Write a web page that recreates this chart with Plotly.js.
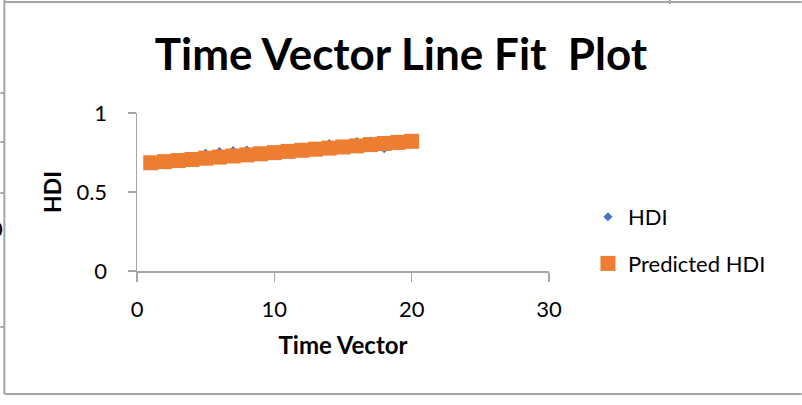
<!DOCTYPE html>
<html>
<head>
<meta charset="utf-8">
<script src="https://cdn.plot.ly/plotly-3.0.1.min.js"></script>
<style>html,body{margin:0;padding:0;background:#fff;}#chart{width:802px;height:405px;}</style>
</head>
<body>
<div id="chart"></div>
<script>
// ---- data ----
const timeVector = [1,2,3,4,5,6,7,8,9,10,11,12,13,14,15,16,17,18,19,20];
const hdi = [0.666,0.681,0.700,0.712,0.745,0.756,0.762,0.766,0.734,0.740,0.744,0.755,0.764,0.806,0.790,0.819,0.823,0.774,0.792,0.820];
const predictedHdi = [0.685,0.692,0.699,0.706,0.714,0.721,0.728,0.735,0.742,0.749,0.757,0.764,0.771,0.778,0.785,0.792,0.800,0.807,0.814,0.821];
const xTicks = [0,10,20,30];
const yTicks = [0,0.5,1];
const yTickText = ['0','0.5','1'];

// ---- layout helpers (pixel -> paper) ----
const W = 802, H = 405;
const L = 136.7, R = 549, T = 113, B = 271;
const px = x => (x - L) / (R - L);
const py = y => (B - y) / (B - T);
const FONT = 'Lato, "Open Sans", sans-serif';
const gray = '#a6a6a6';

const frame = [
  [4,0,4,394],[4,2,802,2],[4,394,802,394],[670,0,670,4],
  [0,93,4,93],[0,142,4,142],[0,193,4,193],[0,327,4,327]
].map(s => ({type:'line', xref:'paper', yref:'paper',
  x0:px(s[0]), y0:py(s[1]), x1:px(s[2]), y1:py(s[3]),
  line:{color:gray, width:2}}));

const traces = [
  {x: timeVector, y: hdi, name: 'HDI', type: 'scatter', mode: 'markers',
   legendgroup: 'a',
   marker: {symbol: 'diamond', size: 7, color: '#4472C4'}},
  {x: timeVector, y: predictedHdi, name: 'Predicted HDI', type: 'scatter', mode: 'markers',
   legendgroup: 'b',
   marker: {symbol: 'square', size: 15, color: '#ED7D31'}}
];

const layout = {
  width: W, height: H,
  margin: {l: L, r: W - R, t: T, b: H - B, pad: 0},
  paper_bgcolor: '#fff', plot_bgcolor: '#fff',
  font: {family: FONT, color: '#000', size: 22},
  title: {text: 'Time Vector Line Fit&nbsp; Plot', font: {family: FONT, size: 44, weight: 'bold', color: '#000'},
          xref: 'container', yref: 'container', x: 0.5, xanchor: 'center', y: 1 - 55/H, yanchor: 'middle'},
  xaxis: {range: [0, 30], tickvals: xTicks, ticktext: xTicks.map(String),
          showgrid: false, zeroline: false, showline: true, linecolor: gray, linewidth: 1.5,
          ticks: 'outside', ticklen: 9, tickcolor: gray, tickwidth: 1.5, ticklabelstandoff: 9,
          tickfont: {size: 22, color: '#000'},
          title: {text: 'Time Vector', font: {size: 24, weight: 'bold', color: '#000'}, standoff: 16}},
  yaxis: {range: [0, 1], tickvals: yTicks, ticktext: yTickText,
          showgrid: false, zeroline: false, showline: true, linecolor: gray, linewidth: 1.5,
          ticks: 'outside', ticklen: 8, tickcolor: gray, tickwidth: 1.5, ticklabelstandoff: 16,
          tickfont: {size: 22, color: '#000'},
          title: {text: 'HDI', font: {size: 23, weight: 'bold', color: '#000'}, standoff: 8}},
  legend: {x: px(588), xanchor: 'left', y: py(196), yanchor: 'top', tracegroupgap: 15,
           font: {size: 22, color: '#000'}, bgcolor: 'rgba(0,0,0,0)'},
  shapes: frame,
  annotations: [{xref:'paper', yref:'paper', x: px(-4), y: py(228), text: '0', showarrow: false,
                 font: {size: 22, color: '#000'}, xanchor: 'center', yanchor: 'middle'}]
};

Plotly.newPlot('chart', traces, layout, {displayModeBar: false, staticPlot: true});
</script>
</body>
</html>
